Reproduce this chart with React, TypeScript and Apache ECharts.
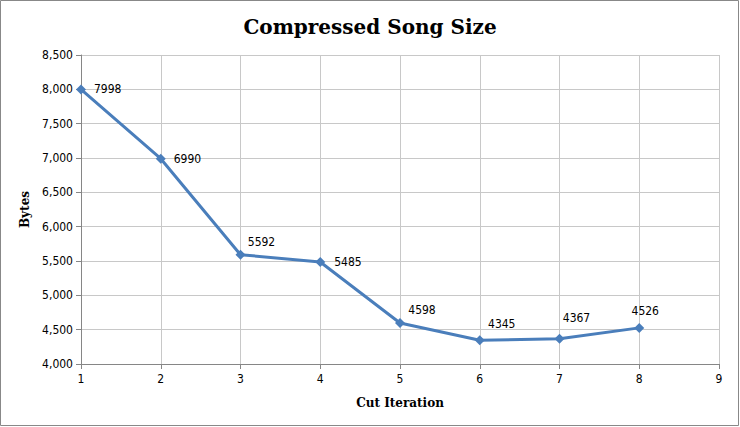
import React, { useEffect, useRef } from "react";
import * as echarts from "echarts";

const iterations = [1, 2, 3, 4, 5, 6, 7, 8];
const bytes = [7998, 6990, 5592, 5485, 4598, 4345, 4367, 4526];
const titleText = "Compressed Song Size";
const xName = "Cut Iteration";
const yName = "Bytes";

export default function App() {
  const ref = useRef<HTMLDivElement>(null);
  useEffect(() => {
    if (!ref.current) return;
    const chart = echarts.init(ref.current, null, { renderer: "svg" });
    const labelFont = "'Liberation Sans Narrow', 'DejaVu Sans Condensed', 'Open Sans', sans-serif";
    const serif = "'DejaVu Serif', 'Liberation Serif', serif";
    const placements: any[] = [
      { position: "right", distance: 8 },
      { position: "right", distance: 8 },
      { position: "top", offset: [21, 3] },
      { position: "right", distance: 9 },
      { position: "top", offset: [22, 3] },
      { position: "top", offset: [22, 0] },
      { position: "top", offset: [17, -5] },
      { position: "top", offset: [6, -1] },
    ];
    chart.setOption({
      animation: false,
      backgroundColor: "#ffffff",
      title: {
        text: titleText,
        left: "center",
        top: 12,
        textStyle: { fontFamily: serif, fontWeight: "bold", fontSize: 20, color: "#000" },
      },
      graphic: [
        {
          type: "rect",
          shape: { x: 0.5, y: 0.5, width: 738, height: 425 },
          style: { fill: "none", stroke: "#888", lineWidth: 1 },
          silent: true,
        },
      ],
      grid: { left: 81, right: 21, top: 55, bottom: 63 },
      xAxis: {
        type: "value",
        min: 1,
        max: 9,
        interval: 1,
        name: xName,
        nameLocation: "middle",
        nameGap: 33,
        nameTextStyle: { fontFamily: serif, fontWeight: "bold", fontSize: 12, color: "#000" },
        axisLine: { lineStyle: { color: "#868686" } },
        axisTick: { show: true, length: 5, lineStyle: { color: "#868686" } },
        axisLabel: { fontFamily: labelFont, fontSize: 12, color: "#000", margin: 9 },
        splitLine: { show: true, lineStyle: { color: "#c8c8c8" } },
      },
      yAxis: {
        type: "value",
        min: 4000,
        max: 8500,
        interval: 500,
        name: yName,
        nameLocation: "middle",
        nameGap: 50,
        nameRotate: 90,
        nameTextStyle: { fontFamily: serif, fontWeight: "bold", fontSize: 12, color: "#000" },
        axisLine: { show: true, lineStyle: { color: "#868686" } },
        axisTick: { show: true, length: 5, lineStyle: { color: "#868686" } },
        axisLabel: {
          fontFamily: labelFont,
          fontSize: 12,
          color: "#000",
          margin: 8,
          formatter: (v: number) => v.toLocaleString("en-US"),
        },
        splitLine: { show: true, lineStyle: { color: "#c8c8c8" } },
      },
      series: [
        {
          type: "line",
          data: iterations.map((x, i) => ({
            value: [x, bytes[i]],
            label: placements[i],
          })),
          lineStyle: { color: "#4a7ebb", width: 3 },
          itemStyle: { color: "#4a7ebb" },
          symbol: "diamond",
          symbolSize: 10,
          label: {
            show: true,
            fontFamily: labelFont,
            fontSize: 12,
            color: "#000",
            formatter: (p: any) => String(p.value[1]),
          },
        },
      ],
    });
    return () => chart.dispose();
  }, []);
  return <div ref={ref} style={{ width: 740, height: 427, position: "absolute", left: 0, top: 0 }} />;
}
